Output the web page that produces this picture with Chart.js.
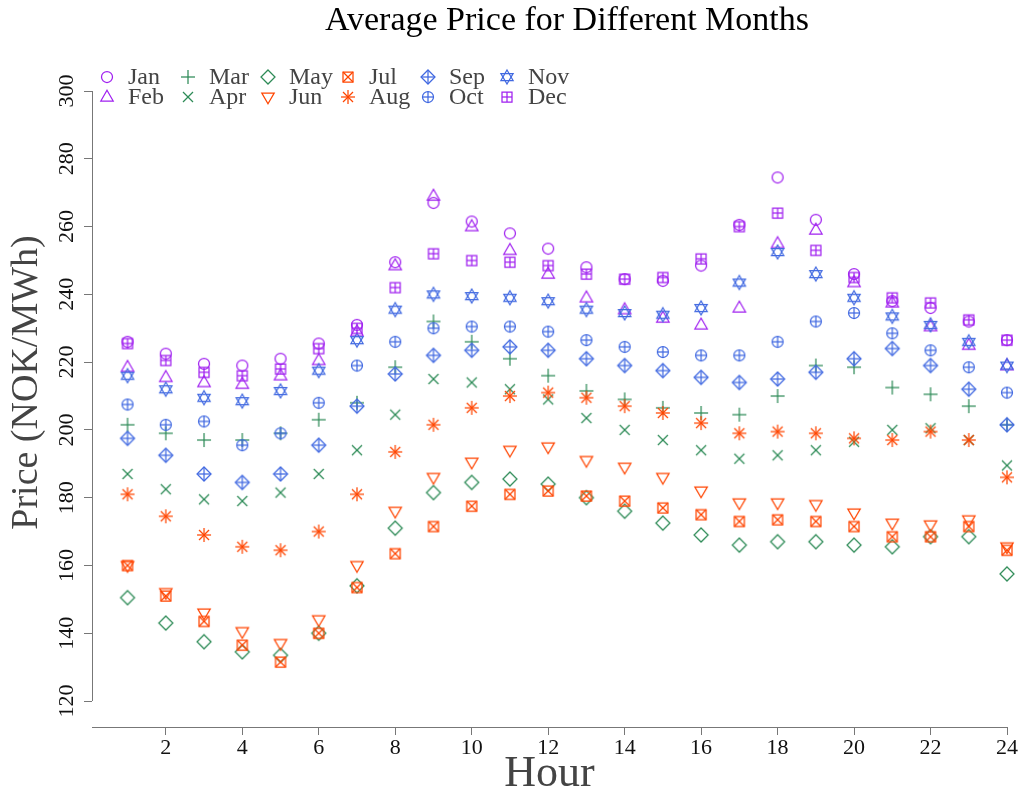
<!DOCTYPE html>
<html>
<head>
<meta charset="utf-8">
<script src="https://cdn.jsdelivr.net/npm/chart.js@4"></script>
<style>
  html, body { margin: 0; padding: 0; background: #fff; }
  #wrap { width: 1025px; height: 799px; }
</style>
</head>
<body>
<div id="wrap"><canvas id="priceChart" width="1025" height="799"></canvas></div>
<script>
const hours = [1, 2, 3, 4, 5, 6, 7, 8, 9, 10, 11, 12, 13, 14, 15, 16, 17, 18, 19, 20, 21, 22, 23, 24];
const monthLabels = ['Jan', 'Feb', 'Mar', 'Apr', 'May', 'Jun', 'Jul', 'Aug', 'Sep', 'Oct', 'Nov', 'Dec'];
const xTicks = [2, 4, 6, 8, 10, 12, 14, 16, 18, 20, 22, 24];
const yTicks = [120, 140, 160, 180, 200, 220, 240, 260, 280, 300];

const jan = [226, 222.5, 219.5, 219, 221, 225.5, 231, 249.5, 267, 261.5, 258, 253.5, 248, 244.5, 244, 248.5, 260.5, 274.5, 262, 246, 238, 236, 232, 226.5];
const feb = [218.5, 215.5, 214, 213.5, 216, 220.5, 229, 248.5, 269, 260, 253, 246, 239, 235.5, 233, 231, 236, 255, 259, 243.5, 237.5, 230.5, 225, 219];
const mar = [201.5, 199, 197, 197, 199, 203, 208, 218.5, 232, 226, 221, 216, 211.5, 209, 206.5, 205, 204.5, 210, 219, 218.5, 212.5, 210.5, 207, 201.5];
const apr = [187, 182.5, 179.5, 179, 181.5, 187, 194, 204.5, 215, 214, 212, 209, 203.5, 200, 197, 194, 191.5, 192.5, 194, 196.5, 200, 200.5, 197, 189.5];
const may = [150.5, 143, 137.5, 134.5, 133.5, 140, 154, 171, 181.5, 184.5, 185.5, 184, 180, 176, 172.5, 169, 166, 167, 167, 166, 165.5, 168.5, 168.5, 157.5];
const jun = [160, 152, 146, 140.5, 137, 144, 160, 176, 186, 190.5, 194, 195, 191, 189, 186, 182, 178.5, 178.5, 178, 175.5, 172.5, 172, 173.5, 165.5];
const jul = [160, 151, 143.5, 136.5, 131.5, 140, 153.5, 163.5, 171.5, 177.5, 181, 182, 180.5, 179, 177, 175, 173, 173.5, 173, 171.5, 168.5, 168.5, 171.5, 164.5];
const aug = [181, 174.5, 169, 165.5, 164.5, 170, 181, 193.5, 201.5, 206.5, 210, 211, 209.5, 207, 205, 202, 199, 199.5, 199, 197.5, 197, 199.5, 197, 186];
const sep = [197.5, 192.5, 187, 184.5, 187, 195.5, 207, 216.5, 222, 223.5, 224.5, 223.5, 221, 219, 217.5, 215.5, 214, 215, 217, 221, 224, 219, 212, 201.5];
const oct = [207.5, 201.5, 202.5, 195.5, 199, 208, 219, 226, 230, 230.5, 230.5, 229, 226.5, 224.5, 223, 222, 222, 226, 232, 234.5, 228.5, 223.5, 218.5, 211];
const nov = [216, 212, 209.5, 208.5, 211.5, 217.5, 226.5, 235.5, 240, 239.5, 239, 238, 235.5, 234.5, 234, 236, 243.5, 252.5, 246, 239, 233.5, 231, 226, 219];
const dec = [225.5, 220.5, 217, 216, 218, 224, 230, 242, 252, 250, 249.5, 248.5, 246, 244.5, 245, 250.5, 260, 264, 253, 245, 239, 237.5, 232.5, 226.5];

const series = [jan, feb, mar, apr, may, jun, jul, aug, sep, oct, nov, dec];
const shapes = ['circle', 'triUp', 'plus', 'cross', 'diamond', 'triDown', 'boxX', 'asterisk', 'diamondPlus', 'circlePlus', 'david', 'boxPlus'];
const colors = ['#a020f0', '#a020f0', '#2e8b57', '#2e8b57', '#2e8b57', '#ff4500', '#ff4500', '#ff4500', '#4169e1', '#4169e1', '#4169e1', '#a020f0'];

const serif = "'Liberation Serif', 'DejaVu Serif', serif";

// small canvases used as point styles (R pch 1..12 look)
function makeMarker(kind, color) {
    const s = 20, c = 10;
    const cv = document.createElement('canvas');
    cv.width = s; cv.height = s;
    const g = cv.getContext('2d');
    g.strokeStyle = color;
    g.lineWidth = 1.25;
    const line = (x1, y1, x2, y2) => { g.beginPath(); g.moveTo(c + x1, c + y1); g.lineTo(c + x2, c + y2); g.stroke(); };
    const poly = (pts) => {
        g.beginPath();
        pts.forEach((p, i) => i ? g.lineTo(c + p[0], c + p[1]) : g.moveTo(c + p[0], c + p[1]));
        g.closePath(); g.stroke();
    };
    const up = [[0, -6.8], [6.2, 4], [-6.2, 4]];
    const down = [[0, 6.8], [6.2, -4], [-6.2, -4]];
    const dia = [[0, -7], [7, 0], [0, 7], [-7, 0]];
    const box = [[-5, -5], [5, -5], [5, 5], [-5, 5]];
    switch (kind) {
        case 'circle':
            g.beginPath(); g.arc(c, c, 5.5, 0, Math.PI * 2); g.stroke(); break;
        case 'triUp': poly(up); break;
        case 'triDown': poly(down); break;
        case 'plus': line(-7, 0, 7, 0); line(0, -7, 0, 7); break;
        case 'cross': line(-5, -5, 5, 5); line(-5, 5, 5, -5); break;
        case 'diamond': poly(dia); break;
        case 'boxX': poly(box); line(-5, -5, 5, 5); line(-5, 5, 5, -5); break;
        case 'asterisk':
            line(-7, 0, 7, 0); line(0, -7, 0, 7);
            line(-5, -5, 5, 5); line(-5, 5, 5, -5); break;
        case 'diamondPlus': poly(dia); line(-7, 0, 7, 0); line(0, -7, 0, 7); break;
        case 'circlePlus':
            g.beginPath(); g.arc(c, c, 5.5, 0, Math.PI * 2); g.stroke();
            line(-5.5, 0, 5.5, 0); line(0, -5.5, 0, 5.5); break;
        case 'david':
            poly([[0, -7], [6.1, 3.5], [-6.1, 3.5]]);
            poly([[0, 7], [6.1, -3.5], [-6.1, -3.5]]); break;
        case 'boxPlus': poly(box); line(-5, 0, 5, 0); line(0, -5, 0, 5); break;
    }
    return cv;
}

const markers = shapes.map((k, i) => makeMarker(k, colors[i]));

const datasets = series.map((vals, i) => ({
    label: monthLabels[i],
    data: hours.map((h, j) => ({ x: h, y: vals[j] })),
    pointStyle: markers[i],
    pointRadius: 6,
    showLine: false,
    clip: false,
    order: 12 - i
}));

// title placed over the plot region, legend in two rows (column-major like the original),
// and the y axis line that only spans 120..300
const extras = {
    id: 'extras',
    afterDraw(chart) {
        const ctx = chart.ctx;
        const y = chart.scales.y;
        ctx.save();
        ctx.strokeStyle = '#777';
        ctx.lineWidth = 1;
        ctx.beginPath();
        ctx.moveTo(chart.chartArea.left + 0.5, y.getPixelForValue(yTicks[yTicks.length - 1]));
        ctx.lineTo(chart.chartArea.left + 0.5, y.getPixelForValue(yTicks[0]));
        ctx.stroke();

        ctx.fillStyle = '#000';
        ctx.font = '34px ' + serif;
        ctx.textAlign = 'center';
        ctx.textBaseline = 'middle';
        ctx.fillText('Average Price for Different Months', 567, 21);

        const colX = [107, 188, 268, 348, 428, 507];
        const rowY = [77, 97];
        ctx.font = '24px ' + serif;
        ctx.fillStyle = '#444';
        ctx.textAlign = 'left';
        monthLabels.forEach((lab, i) => {
            const cx = colX[Math.floor(i / 2)], cy = rowY[i % 2];
            const m = markers[i];
            ctx.drawImage(m, cx - m.width / 2, cy - m.height / 2);
            ctx.fillText(lab, cx + 21, cy + 1);
        });
        ctx.restore();
    }
};

new Chart(document.getElementById('priceChart'), {
    type: 'scatter',
    data: { datasets },
    options: {
        responsive: false,
        animation: false,
        layout: { padding: { top: 38, right: 18, left: 0, bottom: 0 } },
        plugins: {
            legend: { display: false },
            tooltip: { enabled: false },
            title: { display: false }
        },
        scales: {
            x: {
                type: 'linear',
                min: 0.07,
                max: 24,
                afterBuildTicks: (s) => { s.ticks = xTicks.map(v => ({ value: v })); },
                afterFit: (s) => { s.height = 72; },
                grid: { drawOnChartArea: false, drawTicks: true, tickLength: 8, color: '#777' },
                border: { display: true, color: '#777' },
                ticks: { color: '#111', font: { family: serif, size: 22 }, padding: 0, maxRotation: 0, autoSkip: false },
                title: { display: true, text: 'Hour', color: '#444', font: { family: serif, size: 44, lineHeight: 1.1 }, padding: 0 }
            },
            y: {
                min: 112.33,
                max: 315.64,
                afterBuildTicks: (s) => { s.ticks = yTicks.map(v => ({ value: v })); },
                afterFit: (s) => { s.width = 92; },
                grid: { drawOnChartArea: false, drawTicks: true, tickLength: 8, color: '#777' },
                border: { display: false },
                ticks: { color: '#111', font: { family: serif, size: 22 }, padding: 0, minRotation: 90, maxRotation: 90, crossAlign: 'center', autoSkip: false },
                title: { display: true, text: 'Price (NOK/MWh)', color: '#444', font: { family: serif, size: 38 }, padding: { top: 4, bottom: 0 } }
            }
        }
    },
    plugins: [extras]
});
</script>
</body>
</html>
